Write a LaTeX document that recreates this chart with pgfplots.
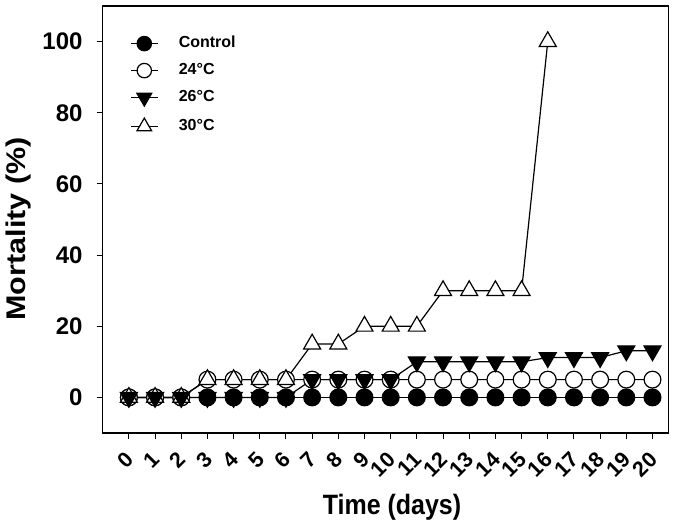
\documentclass[border=0pt]{standalone}
\usepackage{pgfplots}
\pgfplotsset{compat=1.18}
\usepackage{graphicx}
\usepackage{fontspec}
\setmainfont{Liberation Sans}
\begin{document}
\begin{tikzpicture}
\useasboundingbox (-102.7bp,-91bp) rectangle (582.3bp,433bp);
\begin{axis}[
  scale only axis, width=565.5bp, height=427bp,
  xmin=-1, xmax=20.6, ymin=-10, ymax=110,
  axis line style={line width=1.2bp, black},
  xtick={0,1,...,20}, ytick={0,20,...,100},
  tick align=outside, tick pos=left,
  major tick length=6bp,
  every tick/.style={line width=1bp, black},
  /pgf/number format/assume math mode=true,
  yticklabel style={font=\fontsize{24bp}{24bp}\selectfont\bfseries, inner sep=0pt, anchor=east, xshift=-14bp},
  xticklabel style={yshift=-17bp, xshift=1bp, font=\fontsize{21.5bp}{21.5bp}\selectfont\bfseries, inner sep=0pt, rotate=45, anchor=east},
  xlabel={\scalebox{1}[1.12]{Time (days)}},
  ylabel={\scalebox{1.13}[1]{Mortality (\%)}},
  xlabel style={font=\fontsize{25bp}{25bp}\selectfont\bfseries, inner sep=0pt, at={(axis description cs:0.5116,-0.192)}, anchor=base},
  ylabel style={font=\fontsize{27bp}{27bp}\selectfont\bfseries, inner sep=0pt, at={(axis description cs:-0.171,0.478)}, anchor=north, rotate=0},
  legend style={draw=none, fill=none, at={(axis description cs:0.0483,0.93)}, anchor=north west,
    font=\fontsize{16bp}{16bp}\selectfont\bfseries, row sep=12bp, inner sep=0pt,
    nodes={inner sep=0pt, text height=11.5bp, text depth=3.5bp}},
  legend cell align=left,
  legend image code/.code={\draw[mark repeat=2,mark phase=2,#1] plot coordinates {(0bp,0bp) (13.5bp,0bp) (27bp,0bp)}; \path[draw=none] (27bp,0bp) -- (48bp,0bp);},
  every axis plot/.append style={line width=1.2bp, black},
]
% drawing order: Control, 24, 30, 26
\addplot[mark=*, mark options={fill=black, mark size=8.4bp}, forget plot] coordinates {
(0,0)(1,0)(2,0)(3,0)(4,0)(5,0)(6,0)(7,0)(8,0)(9,0)(10,0)(11,0)(12,0)(13,0)(14,0)(15,0)(16,0)(17,0)(18,0)(19,0)(20,0)};
\addplot[mark=*, mark options={fill=white, mark size=8.4bp}, forget plot] coordinates {
(0,0)(1,0)(2,0)(3,5)(4,5)(5,5)(6,5)(7,5)(8,5)(9,5)(10,5)(11,5)(12,5)(13,5)(14,5)(15,5)(16,5)(17,5)(18,5)(19,5)(20,5)};
\addplot[mark=triangle*, mark options={fill=white, mark size=9.8bp}, forget plot] coordinates {
(0,0)(1,0)(2,0)(3,5)(4,5)(5,5)(6,5)(7,15)(8,15)(9,20)(10,20)(11,20)(12,30)(13,30)(14,30)(15,30)(16,100)};
\addplot[mark=triangle*, mark options={fill=black, rotate=180, mark size=9.8bp}, forget plot] coordinates {
(0,0)(1,0)(2,0)(3,0)(4,0)(5,0)(6,0)(7,5)(8,5)(9,5)(10,5)(11,10)(12,10)(13,10)(14,10)(15,10)(16,11.2)(17,11.2)(18,11.2)(19,13.1)(20,13.1)};
\addlegendimage{line width=1.2bp, black, mark=*, mark options={fill=black, mark size=7.2bp}}
\addlegendentry{Control}
\addlegendimage{line width=1.2bp, black, mark=*, mark options={fill=white, mark size=7.2bp}}
\addlegendentry{24\textdegree C}
\addlegendimage{line width=1.2bp, black, mark=triangle*, mark options={fill=black, rotate=180, mark size=8.5bp}}
\addlegendentry{26\textdegree C}
\addlegendimage{line width=1.2bp, black, mark=triangle*, mark options={fill=white, mark size=8.5bp}}
\addlegendentry{30\textdegree C}
\end{axis}
\end{tikzpicture}
\end{document}
